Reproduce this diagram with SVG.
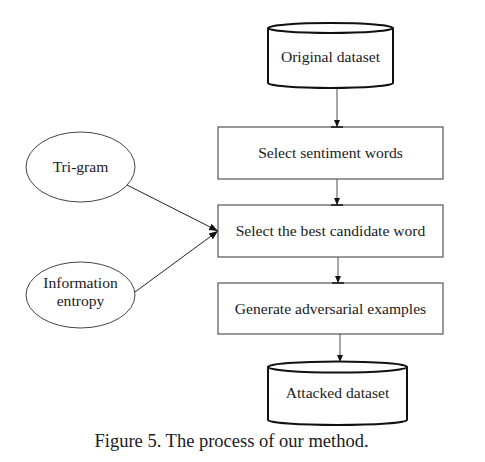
<svg xmlns="http://www.w3.org/2000/svg" width="485" height="462" viewBox="0 0 485 462">
<defs>
<style>
text{font-family:"Liberation Serif","Times New Roman",serif;fill:#1a1a24;text-anchor:middle}
.lbl{font-size:15.6px}
.box{fill:#fff;stroke:#555;stroke-width:1.2}
.cyl{fill:#fff;stroke:#111;stroke-width:2}
.ell{fill:#fff;stroke:#444;stroke-width:1}
.flow{stroke:#888;stroke-width:1.5;fill:none}
.side{stroke:#222;stroke-width:1;fill:none}
</style>
<marker id="ah" markerWidth="8" markerHeight="8" refX="7" refY="4" orient="auto" markerUnits="userSpaceOnUse">
<path d="M0,1 L7,4 L0,7 Z" fill="#111"/>
</marker>
<marker id="ahs" markerWidth="10" markerHeight="10" refX="9" refY="5" orient="auto" markerUnits="userSpaceOnUse">
<path d="M0,1.5 L9,5 L0,8.5 Z" fill="#111"/>
</marker>
</defs>
<rect width="485" height="462" fill="#fff"/>
<g id="connectors">
<line class="flow" x1="337" y1="88" x2="337" y2="127" marker-end="url(#ah)"/>
<line class="flow" x1="337" y1="179" x2="337" y2="205" marker-end="url(#ah)"/>
<line class="flow" x1="338" y1="257" x2="338" y2="283" marker-end="url(#ah)"/>
<line class="flow" x1="340" y1="334" x2="340" y2="362" marker-end="url(#ah)"/>
<line class="side" x1="127" y1="185" x2="218" y2="231" marker-end="url(#ahs)"/>
<line class="side" x1="135" y1="292" x2="218" y2="231" marker-end="url(#ahs)"/>
</g>
<g id="original-dataset">
<path class="cyl" d="M268,28 L268,83 A62.5,5 0 0 0 393,83 L393,28 A62.5,5 0 0 0 268,28 A62.5,5 0 0 0 393,28"/>
<text class="lbl" x="330.5" y="62">Original dataset</text>
</g>
<g id="select-sentiment">
<rect class="box" x="218" y="127" width="225" height="52"/>
<line x1="331" y1="127" x2="343" y2="127" stroke="#111" stroke-width="1.5"/>
<text class="lbl" x="330.5" y="158">Select sentiment words</text>
</g>
<g id="select-best">
<rect class="box" x="218" y="205" width="225" height="52"/>
<line x1="331" y1="205" x2="343" y2="205" stroke="#111" stroke-width="1.5"/>
<text class="lbl" x="330.5" y="236">Select the best candidate word</text>
</g>
<g id="generate">
<rect class="box" x="218" y="283" width="225" height="51"/>
<line x1="332" y1="283" x2="344" y2="283" stroke="#111" stroke-width="1.5"/>
<text class="lbl" x="330.5" y="314">Generate adversarial examples</text>
</g>
<g id="attacked-dataset">
<path class="cyl" d="M268,367 L268,420 A69.5,5 0 0 0 407,420 L407,367 A69.5,5.5 0 0 0 268,367 A69.5,5.5 0 0 0 407,367"/>
<text class="lbl" x="337.5" y="398">Attacked dataset</text>
</g>
<g id="tri-gram">
<ellipse class="ell" cx="80.5" cy="167" rx="54.5" ry="35"/>
<text class="lbl" x="80.5" y="172">Tri-gram</text>
</g>
<g id="information-entropy">
<ellipse class="ell" cx="80.5" cy="295" rx="54.5" ry="33"/>
<text class="lbl" x="80.5" y="288">Information</text>
<text class="lbl" x="80.5" y="306">entropy</text>
</g>
<text x="231.5" y="447" style="font-size:18.5px">Figure 5. The process of our method.</text>
</svg>
